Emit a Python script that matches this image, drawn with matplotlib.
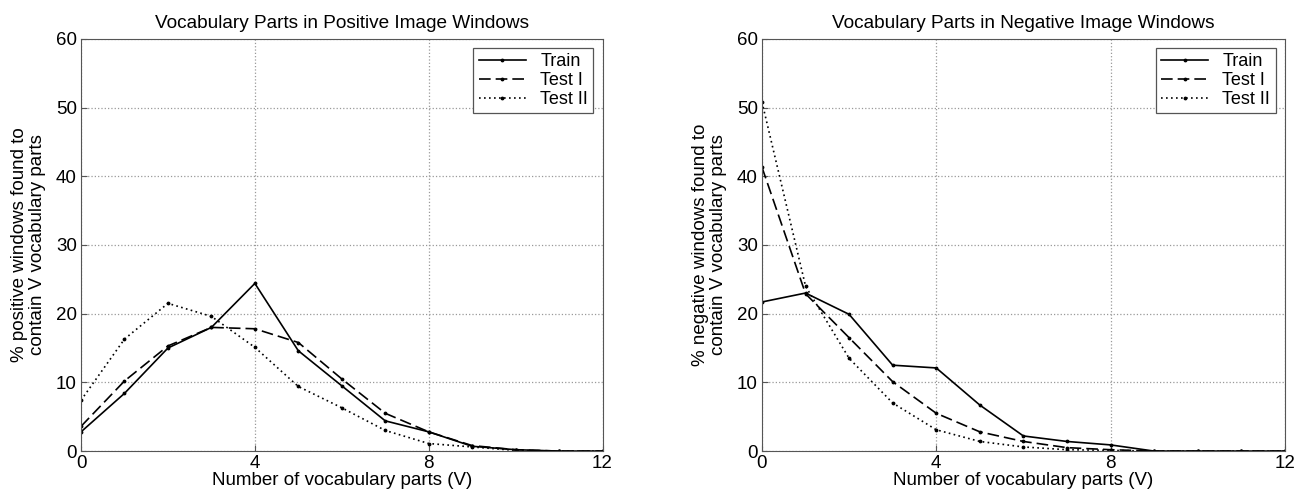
import matplotlib
matplotlib.use('Agg')
import matplotlib.pyplot as plt

plt.rcParams['font.family'] = ['Liberation Sans', 'DejaVu Sans']

V = list(range(13))

# positive windows
pos_train = [2.8, 8.4, 15.0, 18.0, 24.4, 14.6, 9.5, 4.4, 2.8, 0.7, 0.2, 0.0, 0.0]
pos_test1 = [3.6, 10.2, 15.3, 18.0, 17.8, 15.8, 10.5, 5.5, 2.8, 0.8, 0.2, 0.0, 0.0]
pos_test2 = [7.4, 16.3, 21.5, 19.6, 15.1, 9.4, 6.3, 3.0, 1.1, 0.6, 0.1, 0.0, 0.0]

# negative windows
neg_train = [21.7, 23.0, 19.9, 12.5, 12.1, 6.7, 2.2, 1.4, 0.9, 0.0, 0.0, 0.0, 0.0]
neg_test1 = [41.3, 22.9, 16.5, 10.1, 5.5, 2.8, 1.4, 0.5, 0.2, 0.0, 0.0, 0.0, 0.0]
neg_test2 = [50.8, 24.0, 13.5, 7.0, 3.1, 1.4, 0.6, 0.2, 0.1, 0.0, 0.0, 0.0, 0.0]

series_labels = ['Train', 'Test I', 'Test II']
line_styles = ['-', (0, (7, 3)), (0, (1, 2))]

fig = plt.figure(figsize=(13.07, 5.04), dpi=100)
ax1 = fig.add_axes([0.062, 0.105, 0.399, 0.818])
ax2 = fig.add_axes([0.583, 0.105, 0.400, 0.818])

panels = [
    (ax1, [pos_train, pos_test1, pos_test2], 'Vocabulary Parts in Positive Image Windows',
     '% positive windows found to\ncontain V vocabulary parts'),
    (ax2, [neg_train, neg_test1, neg_test2], 'Vocabulary Parts in Negative Image Windows',
     '% negative windows found to\ncontain V vocabulary parts'),
]

for ax, data, title, ylabel in panels:
    for ys, lab, ls in zip(data, series_labels, line_styles):
        ax.plot(V, ys, color='black', linestyle=ls, linewidth=1.2,
                marker='.', markersize=3.5, label=lab)
    ax.set_xlim(0, 12)
    ax.set_ylim(0, 60)
    ax.set_xticks([0, 4, 8, 12])
    ax.set_yticks(range(0, 61, 10))
    ax.grid(True, linestyle=':', color='#999999', linewidth=0.9)
    ax.tick_params(labelsize=13.5, direction='in', length=4, color='#555555', pad=3)
    for sp in ax.spines.values():
        sp.set_color('#555555')
    ax.set_title(title, fontsize=13.7, pad=8)
    ax.set_xlabel('Number of vocabulary parts (V)', fontsize=13.5, labelpad=0)
    ax.set_ylabel(ylabel, fontsize=13.5, labelpad=7, linespacing=1.1)
    leg = ax.legend(loc='upper right', fontsize=13, fancybox=False, framealpha=1,
                    edgecolor='#555555', handlelength=2.6, borderaxespad=0.5,
                    labelspacing=0.1, borderpad=0.3)
    leg.get_frame().set_linewidth(0.9)

fig.savefig('out.png', dpi=100)
